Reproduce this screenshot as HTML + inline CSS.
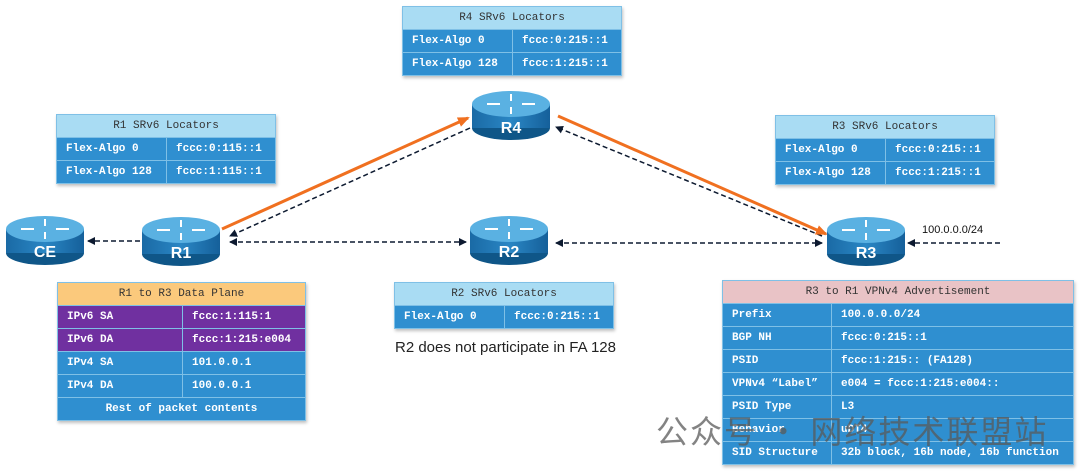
<!DOCTYPE html>
<html><head><meta charset="utf-8"><style>
*{margin:0;padding:0;box-sizing:border-box}
body{width:1080px;height:474px;background:#fff;position:relative;overflow:hidden;font-family:"Liberation Mono",monospace}
table{position:absolute;border-collapse:collapse;font-size:11px;font-weight:bold;color:#fff;box-shadow:1px 2px 3px rgba(0,0,0,.25)}
td{border:1px solid #7fc0e6;background:#2f8fd0;padding:0 0 0 9px;height:23px;white-space:nowrap}
th{border:1px solid #7fc0e6;background:#a9dcf3;color:#333;font-weight:normal;height:23px;text-align:center}
td.p{background:#7030a0}
td.c{text-align:center;padding:0}
svg{position:absolute;left:0;top:0}
.wm{position:absolute;left:656px;top:407px;font-family:"Noto Sans CJK SC",sans-serif;font-size:32px;color:rgba(90,90,90,.75);letter-spacing:2px}
</style></head><body>
<svg width="1080" height="474">
<defs>
<marker id="ad" markerWidth="8" markerHeight="8" refX="7" refY="4" orient="auto-start-reverse" markerUnits="userSpaceOnUse"><path d="M0,0L8,4L0,8z" fill="#0d1a30"/></marker>
<marker id="ao" markerWidth="12" markerHeight="10" refX="10" refY="5" orient="auto" markerUnits="userSpaceOnUse"><path d="M0,0L12,5L0,10z" fill="#f07020"/></marker>
<linearGradient id="side" x1="0" x2="1"><stop offset="0" stop-color="#1a6aa5"/><stop offset=".5" stop-color="#2a86c4"/><stop offset="1" stop-color="#15609a"/></linearGradient>
<g id="rt">
<ellipse cx="0" cy="24" rx="39" ry="12" fill="#0f5688"/>
<rect x="-39" y="0" width="78" height="24" fill="url(#side)"/>
<ellipse cx="0" cy="0" rx="39" ry="13" fill="#5ab1e2"/>
<g stroke="#fff" stroke-width="2" fill="none"><path d="M-24,0h13M24,0h-13M0,-10v7M0,10v-7"/></g>
</g>
</defs>
<g stroke="#0d1a30" stroke-width="1.5" stroke-dasharray="5,3" fill="none">
<line x1="140" y1="241" x2="88" y2="241" marker-end="url(#ad)"/>
<line x1="230" y1="242" x2="466" y2="242" marker-start="url(#ad)" marker-end="url(#ad)"/>
<line x1="556" y1="243" x2="822" y2="243" marker-start="url(#ad)" marker-end="url(#ad)"/>
<line x1="1000" y1="243" x2="908" y2="243" marker-end="url(#ad)"/>
<line x1="470" y1="128" x2="230" y2="236" marker-end="url(#ad)"/>
<line x1="822" y1="236" x2="556" y2="127" marker-end="url(#ad)"/>
</g>
<g stroke="#f07020" stroke-width="3" fill="none">
<line x1="222" y1="229" x2="468" y2="118" marker-end="url(#ao)"/>
<line x1="558" y1="116" x2="826" y2="234" marker-end="url(#ao)"/>
</g>
<use href="#rt" x="45" y="229"/>
<use href="#rt" x="181" y="230"/>
<use href="#rt" x="509" y="229"/>
<use href="#rt" x="866" y="230"/>
<use href="#rt" x="511" y="104"/>
<g font-family="Liberation Sans,sans-serif" font-size="16" font-weight="bold" fill="#fff" text-anchor="middle">
<text x="45" y="257">CE</text><text x="181" y="258">R1</text><text x="509" y="257">R2</text><text x="866" y="258">R3</text><text x="511" y="133">R4</text>
</g>
<text x="922" y="233" font-family="Liberation Sans,sans-serif" font-size="11" fill="#111">100.0.0.0/24</text>
<text x="395" y="352" font-family="Liberation Sans,sans-serif" font-size="15" fill="#222">R2 does not participate in FA 128</text>
</svg>

<table style="left:402px;top:6px;width:220px"><tr><th colspan="2">R4 SRv6 Locators</th></tr>
<tr><td style="width:110px">Flex-Algo 0</td><td>fccc:0:215::1</td></tr><tr><td>Flex-Algo 128</td><td>fccc:1:215::1</td></tr></table>

<table style="left:56px;top:114px;width:220px"><tr><th colspan="2">R1 SRv6 Locators</th></tr>
<tr><td style="width:110px">Flex-Algo 0</td><td>fccc:0:115::1</td></tr><tr><td>Flex-Algo 128</td><td>fccc:1:115::1</td></tr></table>

<table style="left:775px;top:115px;width:220px"><tr><th colspan="2">R3 SRv6 Locators</th></tr>
<tr><td style="width:110px">Flex-Algo 0</td><td>fccc:0:215::1</td></tr><tr><td>Flex-Algo 128</td><td>fccc:1:215::1</td></tr></table>

<table style="left:394px;top:282px;width:220px"><tr><th colspan="2">R2 SRv6 Locators</th></tr>
<tr><td style="width:110px">Flex-Algo 0</td><td>fccc:0:215::1</td></tr></table>

<table style="left:57px;top:282px;width:249px"><tr><th colspan="2" style="background:#fbc97c">R1 to R3 Data Plane</th></tr>
<tr><td class="p" style="width:125px">IPv6 SA</td><td class="p">fccc:1:115:1</td></tr>
<tr><td class="p">IPv6 DA</td><td class="p">fccc:1:215:e004</td></tr>
<tr><td>IPv4 SA</td><td>101.0.0.1</td></tr>
<tr><td>IPv4 DA</td><td>100.0.0.1</td></tr>
<tr><td colspan="2" class="c">Rest of packet contents</td></tr></table>

<table style="left:722px;top:280px;width:352px"><tr><th colspan="2" style="background:#e9c3c6">R3 to R1 VPNv4 Advertisement</th></tr>
<tr><td style="width:109px">Prefix</td><td>100.0.0.0/24</td></tr>
<tr><td>BGP NH</td><td>fccc:0:215::1</td></tr>
<tr><td>PSID</td><td>fccc:1:215:: (FA128)</td></tr>
<tr><td>VPNv4 “Label”</td><td>e004 = fccc:1:215:e004::</td></tr>
<tr><td>PSID Type</td><td>L3</td></tr>
<tr><td>Behavior</td><td>uDT4</td></tr>
<tr><td>SID Structure</td><td>32b block, 16b node, 16b function</td></tr></table>

<div class="wm">公众号 · 网络技术联盟站</div>
</body></html>
